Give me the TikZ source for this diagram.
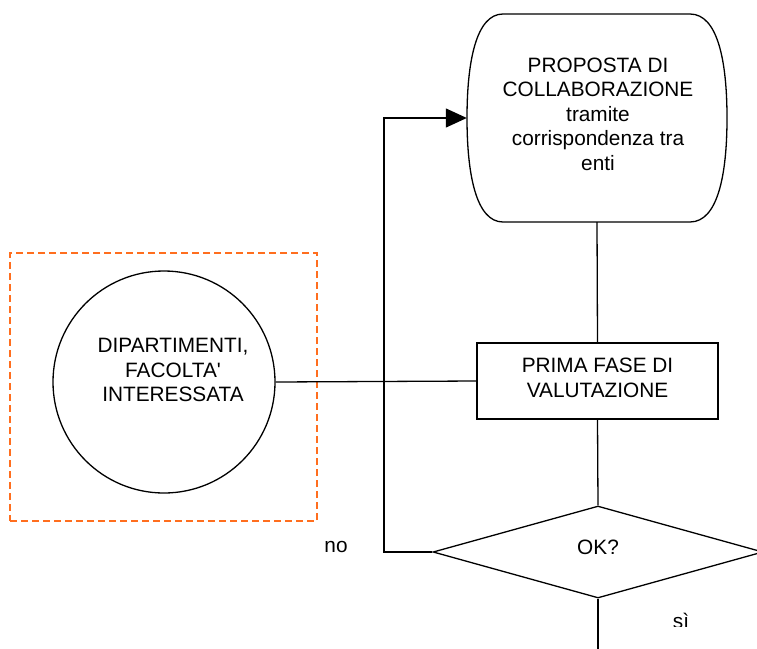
\documentclass[tikz,border=0pt]{standalone}
\usepackage{fontspec}
\setmainfont{Liberation Sans}[Ligatures=TeXOff]
\usetikzlibrary{arrows.meta,shapes.geometric}
\begin{document}
\begin{tikzpicture}[x=1pt,y=-1pt,
  line/.style={draw=black,line width=1.3pt},
  txt/.style={font=\fontsize{20.8}{24.5}\selectfont,align=center,inner sep=0pt},
  grpbox/.style={draw={rgb,255:red,255;green,110;blue,30},line width=1.6pt,dash pattern=on 7pt off 4pt,minimum width=307pt,minimum height=268pt,inner sep=0pt},
  stepbox/.style={line,minimum width=241pt,minimum height=76pt,inner sep=0pt},
  decbox/.style={line,diamond,minimum width=330pt,minimum height=92pt,inner sep=0pt}
]
\useasboundingbox (0,0) rectangle (757,648);
% group box
\node[grpbox] (grp) at (163.5,387) {};
% circle
\node[line,circle,minimum size=222pt,inner sep=0pt] (dept) at (164,382) {};
\node[txt] (depttext) at (173,370) {DIPARTIMENTI,\\FACOLTA'\\INTERESSATA};
% top terminal
\node[minimum width=260pt,minimum height=208pt,inner sep=0pt] (prop) at (597,118) {};
\draw[line] (503,14) -- (690,14) .. controls (718,14) and (727,62) .. (727,118)
  .. controls (727,174) and (718,222) .. (690,222) -- (503,222)
  .. controls (476,222) and (467,174) .. (467,118)
  .. controls (467,62) and (476,14) .. (503,14) -- cycle;
\node[txt] (proptext) at (598,114) {PROPOSTA DI\\COLLABORAZIONE\\tramite\\corrispondenza tra\\enti};
% step box
\node[stepbox] (pfv) at (597.5,381) {};
\node[txt] (pfvtext) at (597.5,378) {PRIMA FASE DI\\VALUTAZIONE};
% decision
\node[decbox] (ok) at (598,552) {};
\node[txt] (oktext) at (598,547) {OK?};
% labels
\node[txt] (no) at (336,547) {no};
\begin{scope}
\clip (600,600) rectangle (757,626);
\node[txt,anchor=base] (si) at (681,628) {sì};
\end{scope}
% connectors
\coordinate (lp) at (384,552);
\coordinate (bot) at (598,660);
\draw[line] (prop.south) -- (pfv.north);
\draw[line] (pfv.south) -- (ok.north);
\draw[line] (ok.south) -- (bot);
\draw[line] (dept.east) -- (pfv.west);
\draw[line,-{Triangle[length=21pt,width=19pt]}] (ok.west) -- (lp) |- (prop.west);
\end{tikzpicture}
\end{document}
